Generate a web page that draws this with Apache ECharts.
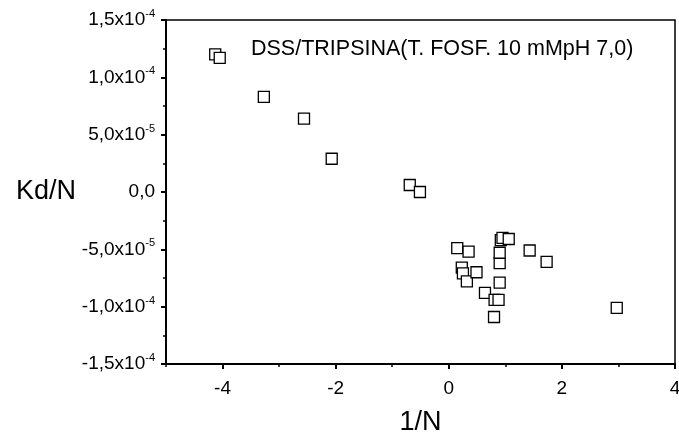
<!DOCTYPE html>
<html>
<head>
<meta charset="utf-8">
<script src="https://cdn.jsdelivr.net/npm/echarts@6/dist/echarts.min.js"></script>
<style>
  html, body { margin: 0; padding: 0; background: #fff; }
  #chart { width: 679px; height: 439px; }
</style>
</head>
<body>
<div id="chart"></div>
<script>
// data
const xVals = [-4.13, -4.05, -3.27, -2.56, -2.07, -0.69, -0.51,
  0.15, 0.35, 0.23, 0.25, 0.32, 0.49, 0.64, 0.81, 0.88, 0.80,
  0.90, 0.90, 0.90, 0.92, 0.95, 1.06, 1.43, 1.73, 2.97];
const yVals = [1.20e-4, 1.17e-4, 8.3e-5, 6.4e-5, 2.9e-5, 6.1e-6, 0.0,
  -4.9e-5, -5.2e-5, -6.6e-5, -7.1e-5, -7.8e-5, -7.0e-5, -8.8e-5, -9.4e-5, -9.4e-5, -1.09e-4,
  -7.9e-5, -6.2e-5, -5.3e-5, -4.2e-5, -4.0e-5, -4.1e-5, -5.1e-5, -6.1e-5, -1.01e-4];
const xTicks = [-4, -2, 0, 2, 4];
const xMinorTicks = [-5, -3, -1, 1, 3];
const yTickLabels = {
  '-15': ['-1,5x10', '-4'],
  '-10': ['-1,0x10', '-4'],
  '-5': ['-5,0x10', '-5'],
  '0': ['0,0', ''],
  '5': ['5,0x10', '-5'],
  '10': ['1,0x10', '-4'],
  '15': ['1,5x10', '-4']
};
const titleText = 'DSS/TRIPSINA(T. FOSF. 10 mMpH 7,0)';

const points = xVals.map((x, i) => [x, yVals[i]]);
const font = '"Liberation Sans", Arial, sans-serif';

const chart = echarts.init(document.getElementById('chart'));
chart.setOption({
  animation: false,
  backgroundColor: '#fff',
  title: {
    text: titleText,
    left: 246, top: 33,
    textStyle: { fontFamily: font, fontWeight: 'normal', fontSize: 21.5, color: '#000' }
  },
  grid: {
    left: 166, right: 4, top: 20, bottom: 75,
    outerBoundsMode: 'none',
    show: true, borderColor: '#000', borderWidth: 1.5, backgroundColor: 'transparent'
  },
  xAxis: [{
    type: 'value', min: -5, max: 4,
    name: '1/N', nameLocation: 'middle', nameGap: 45,
    nameTextStyle: { fontFamily: font, fontSize: 27, color: '#000' },
    splitLine: { show: false },
    axisLine: { onZero: false, lineStyle: { color: '#000', width: 2 } },
    axisTick: { customValues: xTicks, length: 5, lineStyle: { color: '#000', width: 2 } },
    axisLabel: { customValues: xTicks, margin: 15, fontFamily: font, fontSize: 19, color: '#000',
      formatter: v => String(v) }
  }, {
    type: 'value', min: -5, max: 4, position: 'bottom',
    splitLine: { show: false },
    axisLine: { show: false, onZero: false },
    axisTick: { customValues: xMinorTicks, length: 3, lineStyle: { color: '#000', width: 1.5 } },
    axisLabel: { show: false }
  }],
  yAxis: {
    type: 'value', min: -1.5e-4, max: 1.5e-4, interval: 5e-5,
    name: 'Kd/N', nameLocation: 'middle', nameGap: 120, nameRotate: 0,
    nameTextStyle: { fontFamily: font, fontSize: 27, color: '#000', align: 'center' },
    splitLine: { show: false },
    axisLine: { onZero: false, lineStyle: { color: '#000', width: 2 } },
    axisTick: { length: 5, lineStyle: { color: '#000', width: 2 } },
    minorTick: { show: true, splitNumber: 2, length: 3, lineStyle: { color: '#000', width: 1.5 } },
    axisLabel: {
      margin: 11,
      formatter: v => {
        const t = yTickLabels[String(Math.round(v * 1e5))];
        if (!t) return '';
        return t[1] ? '{b|' + t[0] + '}{s|' + t[1] + '}' : '{b|' + t[0] + '}';
      },
      rich: {
        b: { fontFamily: font, fontSize: 19, color: '#000' },
        s: { fontFamily: font, fontSize: 11, color: '#000', padding: [0, 0, 12, 0] }
      }
    }
  },
  series: [{
    type: 'scatter',
    data: points,
    symbol: 'rect',
    symbolSize: 11,
    itemStyle: { color: '#fff', borderColor: '#000', borderWidth: 1.3, opacity: 1 }
  }]
});
</script>
</body>
</html>
